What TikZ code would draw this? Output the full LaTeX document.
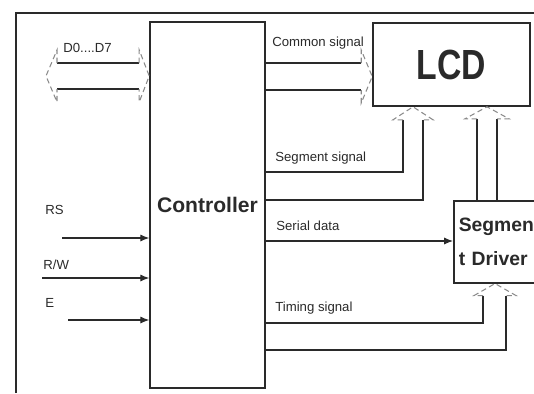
\documentclass[tikz,border=0pt]{standalone}
\usepackage{fontspec}
\setmainfont{Liberation Sans}
\usepackage{graphicx}
\usetikzlibrary{arrows.meta, positioning, calc}
\definecolor{colInk}{HTML}{2A2A2A}
\definecolor{colHead}{HTML}{8A8A8A}
\tikzset{
    blockbox/.style={
        draw=colInk, line width=0.9pt, fill=white,
        inner sep=0pt, text=colInk,
        font=\bfseries\fontsize{12}{14}\selectfont
    },
    sigline/.style={draw=colInk, line width=0.6pt},
    headline/.style={draw=colHead, line width=0.6pt, densely dashed},
    inarrow/.style={-{Latex[length=5pt, width=4pt]}, line width=0.6pt, color=colInk},
    lbl/.style={anchor=west, inner sep=0pt, text=colInk, font=\fontsize{7.5}{9}\selectfont},
}

\begin{document}
\begin{tikzpicture}[x=0.02cm, y=-0.02cm]
    \useasboundingbox (0,0) rectangle (534,393);
    \clip (0,0) rectangle (534,393);
    % frame
    \draw[colInk, line width=0.9pt] (16,393) -- (16,13) -- (534,13);

    % blocks
    \node[blockbox, minimum width=2.3cm, minimum height=7.32cm] (ctrl)
          at (207.5,205) {Controller};
    \node[blockbox, minimum width=3.14cm, minimum height=1.66cm,
          font=\bfseries\fontsize{24}{24}\selectfont] (lcd)
          at (451.5,64.5) {\scalebox{0.8}[1]{LCD}};
    \node[blockbox, anchor=north west, minimum height=1.64cm,
          text width=1.64cm, inner xsep=0.1cm, align=left,
          font=\bfseries\fontsize{11}{19}\selectfont] (drv)
          at (453,200) {Segmen\\t Driver};

    % free ends
    \coordinate (busL) at (46,76);
    \coordinate (comY) at (0,76.5);
    \coordinate (segA) at (403,172);
    \coordinate (segB) at (423,200);
    \coordinate (segX) at (413,0);
    \coordinate (drvX) at (487,0);
    \coordinate (serY) at (0,241);
    \coordinate (timA) at (483,323);
    \coordinate (timB) at (506,350);
    \coordinate (timX) at (495,0);
    \coordinate (rs) at (62,238);
    \coordinate (rw) at (42,278);
    \coordinate (en) at (68,320);

    % data bus
    \draw[sigline] ($(busL)+(11,-13)$) -- ($(ctrl.west |- busL)+(-10,-13)$)
                   ($(busL)+(11,13)$) -- ($(ctrl.west |- busL)+(-10,13)$);
    \draw[headline] ($(busL)+(11,-13)$) -- ($(busL)+(11,-26)$) -- (busL)
          -- ($(busL)+(11,26)$) -- ($(busL)+(11,13)$);
    \draw[headline] ($(ctrl.west |- busL)+(-10,-13)$) -- ($(ctrl.west |- busL)+(-10,-26)$)
          -- (ctrl.west |- busL) -- ($(ctrl.west |- busL)+(-10,26)$)
          -- ($(ctrl.west |- busL)+(-10,13)$);

    % common signal
    \draw[sigline] ($(ctrl.east |- comY)+(0,-13.5)$) -- ($(lcd.west |- comY)+(-11,-13.5)$)
                   ($(ctrl.east |- comY)+(0,13.5)$) -- ($(lcd.west |- comY)+(-11,13.5)$);
    \draw[headline] ($(lcd.west |- comY)+(-11,-13.5)$) -- ($(lcd.west |- comY)+(-11,-26.5)$)
          -- (lcd.west |- comY) -- ($(lcd.west |- comY)+(-11,26.5)$)
          -- ($(lcd.west |- comY)+(-11,13.5)$);

    % segment signal
    \draw[sigline] (ctrl.east |- segA) -- (segA) -- ($(lcd.south -| segA)+(0,13)$);
    \draw[sigline] (ctrl.east |- segB) -- (segB) -- ($(lcd.south -| segB)+(0,13)$);
    \draw[headline] ($(lcd.south -| segA)+(0,13)$) -- ($(lcd.south -| segX)+(-20,13)$)
          -- (lcd.south -| segX) -- ($(lcd.south -| segX)+(20,13)$)
          -- ($(lcd.south -| segB)+(0,13)$);

    % driver to LCD
    \draw[sigline] ($(drv.north -| drvX)+(-10,0)$) -- ($(lcd.south -| drvX)+(-10,12)$)
                   ($(drv.north -| drvX)+(10,0)$) -- ($(lcd.south -| drvX)+(10,12)$);
    \draw[headline] ($(lcd.south -| drvX)+(-10,12)$) -- ($(lcd.south -| drvX)+(-22,12)$)
          -- (lcd.south -| drvX) -- ($(lcd.south -| drvX)+(22,12)$)
          -- ($(lcd.south -| drvX)+(10,12)$);

    % serial data
    \draw[inarrow] (ctrl.east |- serY) -- (drv.west |- serY);

    % timing signal
    \draw[sigline] (ctrl.east |- timA) -- (timA) -- ($(drv.south -| timA)+(0,12)$);
    \draw[sigline] (ctrl.east |- timB) -- (timB) -- ($(drv.south -| timB)+(0,12)$);
    \draw[headline] ($(drv.south -| timA)+(0,12)$) -- ($(drv.south -| timX)+(-21,12)$)
          -- (drv.south -| timX) -- ($(drv.south -| timX)+(21,12)$)
          -- ($(drv.south -| timB)+(0,12)$);

    % control inputs
    \draw[inarrow] (rs) -- (ctrl.west |- rs);
    \draw[inarrow] (rw) -- (ctrl.west |- rw);
    \draw[inarrow] (en) -- (ctrl.west |- en);

    % labels
    \node[lbl] (dlbl) at (63,48) {D0....D7};
    \node[lbl] (comlbl) at (272,43) {Common signal};
    \node[lbl] (seglbl) at (275,158) {Segment signal};
    \node[lbl] (serlbl) at (276,226) {Serial data};
    \node[lbl] (timlbl) at (275,308) {Timing signal};
    \node[lbl] (rslbl) at (45,210) {RS};
    \node[lbl] (rwlbl) at (43,265) {R/W};
    \node[lbl] (elbl) at (45,303) {E};
\end{tikzpicture}
\end{document}
